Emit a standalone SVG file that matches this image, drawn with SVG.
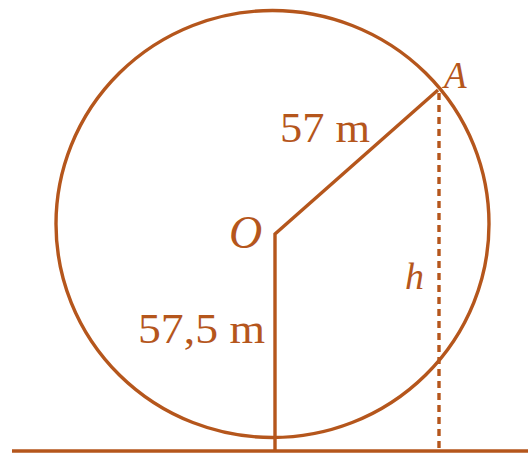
<svg xmlns="http://www.w3.org/2000/svg" width="528" height="454" viewBox="0 0 528 454">
<style>
.ln{stroke:#b5561c;stroke-width:3.4;fill:none;stroke-linejoin:miter}
.t{fill:#b5561c;font-family:"Liberation Serif","Times New Roman",serif}
.i{font-style:italic}
</style>
<rect width="528" height="454" fill="#ffffff"/>
<g id="wheel"><ellipse class="ln" cx="272.5" cy="224" rx="216.5" ry="213.5"/></g>
<g id="ground"><line class="ln" x1="12" y1="451" x2="528" y2="451"/></g>
<g id="connectors">
<polyline class="ln" points="275,451 275,234 438,90"/>
<line class="ln" x1="439" y1="93" x2="439" y2="451" stroke-dasharray="7,5"/>
</g>
<g id="labels">
<text class="t i" x="444" y="88" font-size="37">A</text>
<text class="t i" x="229" y="248" font-size="46">O</text>
<text class="t i" x="405" y="289" font-size="38">h</text>
<text class="t" x="280" y="142" font-size="43" textLength="90" lengthAdjust="spacingAndGlyphs">57 m</text>
<text class="t" x="138" y="343" font-size="42" textLength="127" lengthAdjust="spacingAndGlyphs">57,5 m</text>
</g>
</svg>
